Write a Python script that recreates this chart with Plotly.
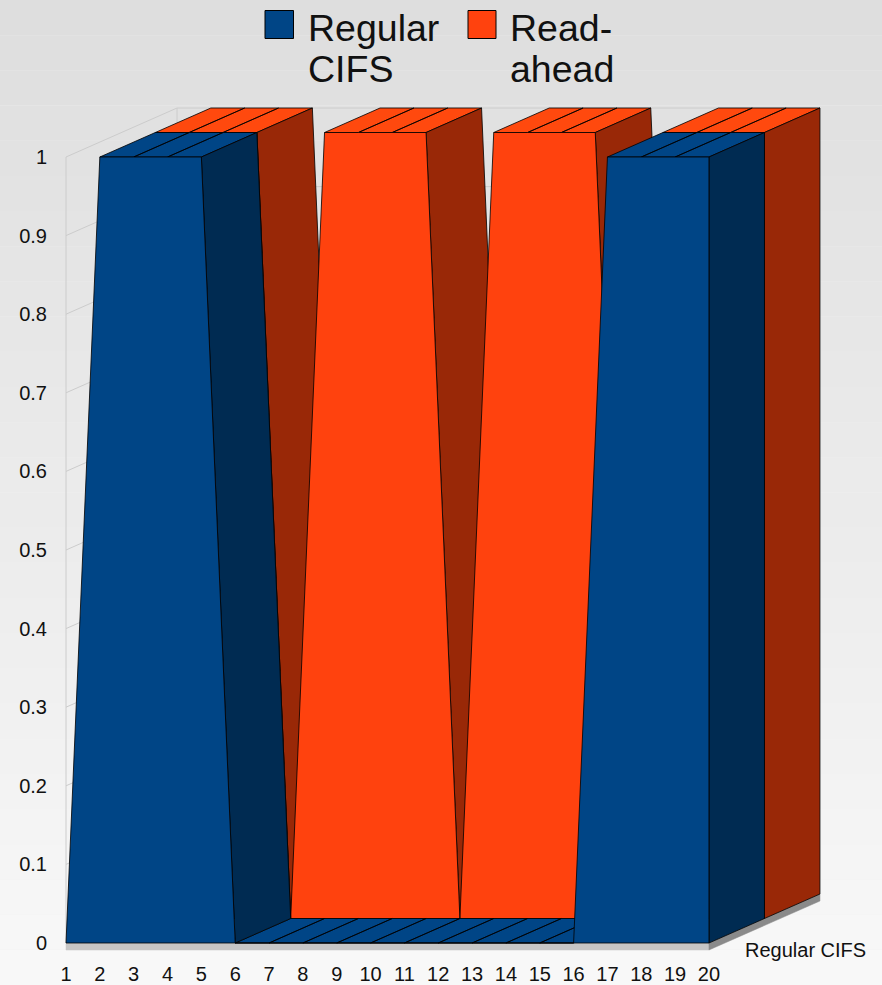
import plotly.graph_objects as go

# ---- data ----
categories = list(range(1, 21))
regular_cifs = [0, 1, 1, 1, 1, 0, 0, 0, 0, 0, 0, 0, 0, 0, 0, 0, 1, 1, 1, 1]
read_ahead = [0, 1, 1, 1, 1, 0, 1, 1, 1, 1, 0, 1, 1, 1, 1, 0, 1, 1, 1, 1]
y_ticks = [0, 0.1, 0.2, 0.3, 0.4, 0.5, 0.6, 0.7, 0.8, 0.9, 1]
y_tick_labels = ["0", "0.1", "0.2", "0.3", "0.4", "0.5", "0.6", "0.7", "0.8", "0.9", "1"]
series_names = ["Regular CIFS", "Read-ahead"]

# ---- styling / geometry ----
W, H = 882, 985
CAT_PX, VAL_PX = 33.84, 786.0
DX, DY = 55.5 / CAT_PX, 24.5 / VAL_PX      # oblique depth of one series
SLAB = 7 / VAL_PX
FONT = "Liberation Sans"
TXT = "#111111"
EDGE = "rgba(0,0,0,0.8)"
BLUE, BLUE_D = "#004586", "#002b52"
ORANGE, ORANGE_D = "#ff420e", "#992807"
ORANGE_TOP = "#ff490e"

def px_x(p):
    return 1 + (p - 66) / CAT_PX

def px_y(p):
    return (943 - p) / VAL_PX

def polys(list_of_polys):
    xs, ys = [], []
    for poly in list_of_polys:
        for a, b in poly + [poly[0]]:
            xs.append(a)
            ys.append(b)
        xs.append(None)
        ys.append(None)
    return xs, ys

def fill(fig, p, color, name=None, line=EDGE, width=1):
    xs, ys = polys(p)
    fig.add_trace(go.Scatter(x=xs, y=ys, mode="lines", fill="toself", fillcolor=color,
                             line=dict(color=line, width=width), name=name,
                             showlegend=False, hoverinfo="skip"))

def add_series(fig, vals, depth, base, dark, top, name):
    ox, oy = DX * depth, DY * depth
    sides, tops = [], []
    for i in range(len(vals) - 1):
        x0, x1, v0, v1 = categories[i], categories[i + 1], vals[i], vals[i + 1]
        q = [(x0 + ox, v0 + oy), (x1 + ox, v1 + oy), (x1 + ox + DX, v1 + oy + DY), (x0 + ox + DX, v0 + oy + DY)]
        if v1 < v0:
            sides.append(q)
        elif v1 == v0:
            tops.append(q)
    xe, ve = categories[-1], vals[-1]
    sides.append([(xe + ox, oy), (xe + ox, ve + oy), (xe + ox + DX, ve + oy + DY), (xe + ox + DX, oy + DY)])
    fill(fig, tops, top)
    fill(fig, sides, dark)
    front = [(categories[0] + ox, oy)] + [(c + ox, v + oy) for c, v in zip(categories, vals)] + [(categories[-1] + ox, oy)]
    fill(fig, [front], base, name=name)

fig = go.Figure()

# walls and grid
wx0, wx1, wx2 = categories[0], categories[0] + 2 * DX, categories[-1] + 2 * DX
gx, gy = [], []
for t in y_ticks:
    gx += [wx0, wx1, wx2, None]
    gy += [t, t + 2 * DY, t + 2 * DY, None]
gx += [wx0, wx0, None, wx1, wx1, None]
gy += [0, 1, None, 2 * DY, 1 + 2 * DY, None]
fig.add_trace(go.Scatter(x=gx, y=gy, mode="lines", line=dict(color="#cccccc", width=1),
                         showlegend=False, hoverinfo="skip"))

# floor slab
fill(fig, [[(wx0, 0), (categories[-1], 0), (categories[-1], -SLAB), (wx0, -SLAB)]], "#c6c6c6", line="#c6c6c6", width=0.5)
fill(fig, [[(categories[-1], 0), (wx2, 2 * DY), (wx2, 2 * DY - SLAB), (categories[-1], -SLAB)]], "#8a8a8a", line="#8a8a8a", width=0.5)

add_series(fig, read_ahead, 1, ORANGE, ORANGE_D, ORANGE_TOP, series_names[1])
add_series(fig, regular_cifs, 0, BLUE, BLUE_D, BLUE, series_names[0])

# full-page vertical gradient background
shapes = []
N = 28
for i in range(N):
    g = round(222 + (248 - 222) * i / (N - 1))
    shapes.append(dict(type="rect", xref="paper", yref="paper", layer="below",
                       x0=0, x1=1, y0=1 - (i + 1) / N, y1=1 - i / N,
                       fillcolor=f"rgb({g},{g},{g})", line=dict(width=0)))

# legend swatches
def swatch(x0, x1, y0, y1, color):
    shapes.append(dict(type="rect", xref="paper", yref="paper", layer="above",
                       x0=x0 / W, x1=x1 / W, y0=1 - y1 / H, y1=1 - y0 / H,
                       fillcolor=color, line=dict(color="#000000", width=1)))

swatch(265, 293.5, 10.5, 38.5, BLUE)
swatch(468, 496, 10.5, 38.5, ORANGE)

def label(text, x, y, size, anchor="left"):
    return dict(text=text, xref="paper", yref="paper", x=x / W, y=1 - y / H, showarrow=False,
                xanchor=anchor, yanchor="middle", font=dict(family=FONT, size=size, color=TXT),
                borderpad=0, xshift=0)

annotations = [
    label("Regular", 307, 27.5, 37.5),
    label("CIFS", 307, 69.5, 37.5),
    label("Read-", 509, 27.5, 37.5),
    label("ahead", 509, 69.5, 37.5),
    label(series_names[0], 744, 950, 20),
]

DOM_L, DOM_R, DOM_T, DOM_B = 60, 826, 100, 955
fig.update_layout(
    width=W, height=H, autosize=False,
    margin=dict(l=0, r=0, t=0, b=0, pad=0),
    paper_bgcolor="#f0f0f0", plot_bgcolor="rgba(0,0,0,0)",
    shapes=shapes, annotations=annotations, showlegend=False,
    xaxis=dict(domain=[DOM_L / W, DOM_R / W], range=[px_x(DOM_L), px_x(DOM_R)], automargin=False,
               tickmode="array", tickvals=categories, ticktext=[str(c) for c in categories],
               showgrid=False, zeroline=False, showline=False, ticks="", ticklabelstandoff=5,
               tickangle=0, tickfont=dict(family=FONT, size=20, color=TXT)),
    yaxis=dict(domain=[1 - DOM_B / H, 1 - DOM_T / H], range=[px_y(DOM_B), px_y(DOM_T)], automargin=False,
               tickmode="array", tickvals=y_ticks, ticktext=y_tick_labels,
               showgrid=False, zeroline=False, showline=False, ticks="", ticklabelstandoff=12,
               tickfont=dict(family=FONT, size=20, color=TXT)),
)

fig.write_html("out.html", config=dict(displayModeBar=False),
               post_script="document.body.style.margin='0';document.body.style.overflow='hidden';")
